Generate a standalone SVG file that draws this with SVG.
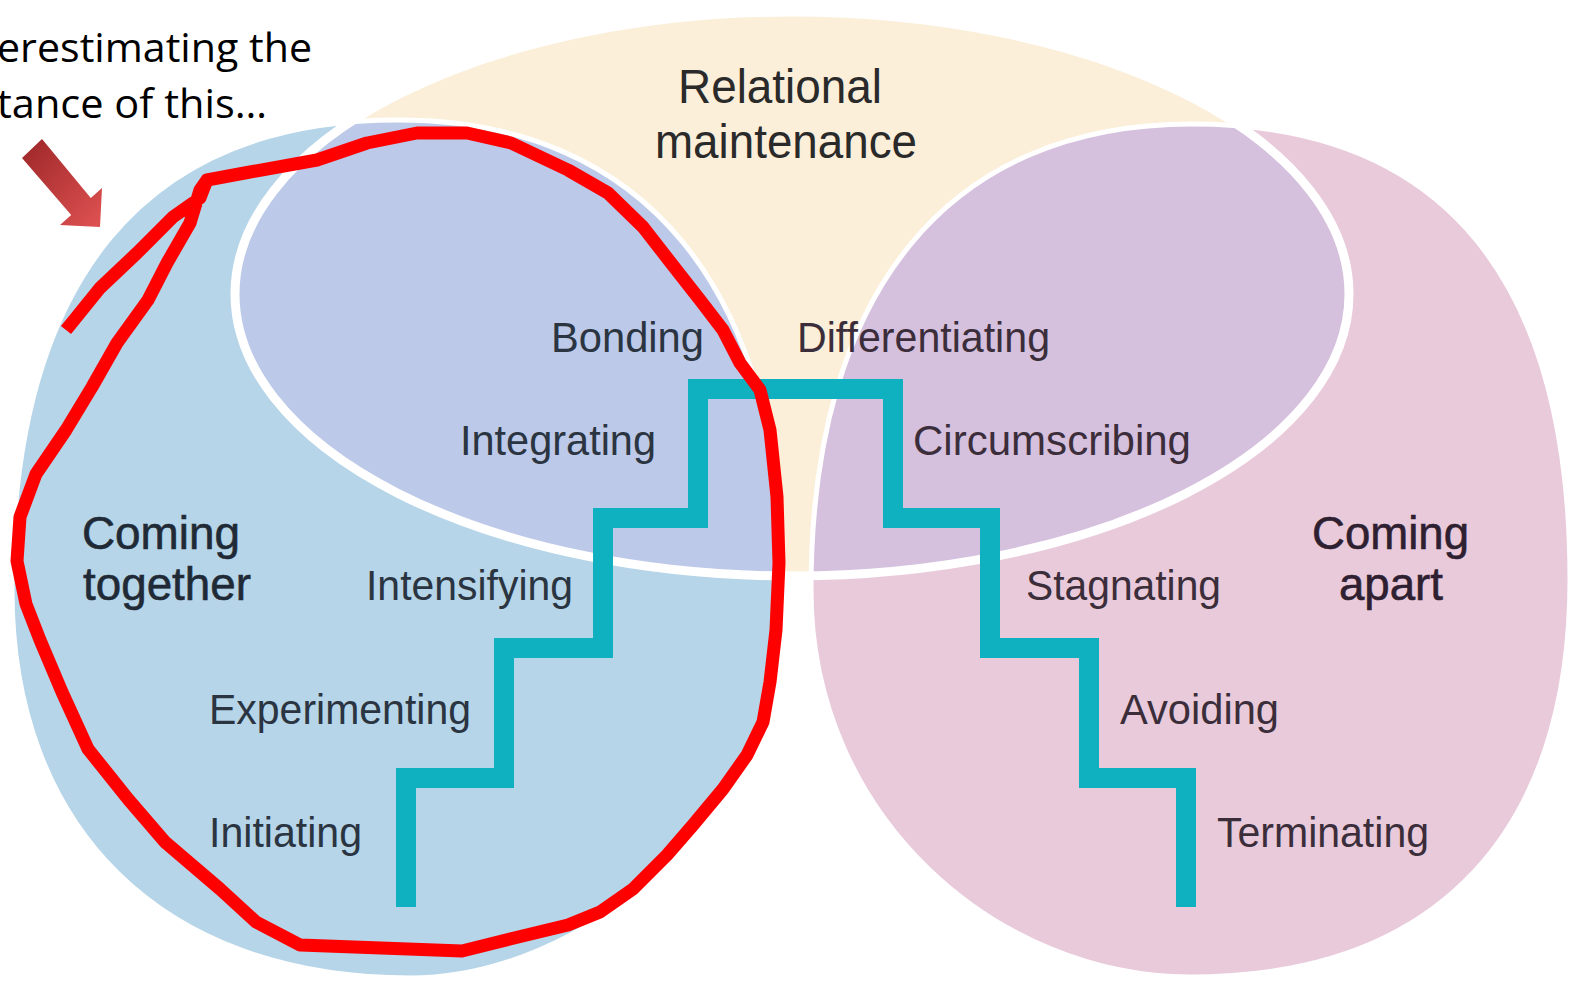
<svg xmlns="http://www.w3.org/2000/svg" width="1574" height="982" viewBox="0 0 1574 982">
<style>
.lbl{font-family:"Liberation Sans",Arial,sans-serif;font-size:43px}
.big{font-family:"Liberation Sans",Arial,sans-serif;font-size:46px;stroke-width:0.6}
.title{font-family:"Liberation Sans",Arial,sans-serif;font-size:49px;fill:#2a2a2a}
.l{fill:#2b3441}
.r{fill:#3b2e3a}
.bigl{fill:#1f2a36;stroke:#1f2a36}
.bigr{fill:#2e2030;stroke:#2e2030}
.note{font-family:"Open Sans","Liberation Sans",sans-serif;font-size:40px;fill:#000}
.stair{fill:none;stroke:#0fb0bf;stroke-width:20;stroke-linejoin:miter;stroke-linecap:butt}
.edge{fill:none;stroke:#ffffff}
</style>
<defs>
<path id="blueShape" d="M 398 120 C 143 120, 12 280, 12 590 C 12 827, 160 978, 410 978 C 580 978, 783 820, 783 590 C 783 289, 644 120, 398 120 Z"/>
<path id="pinkShape" d="M 1192 124 C 1445 124, 1570 280, 1570 580 C 1570 830, 1440 977, 1190 977 C 1000 977, 811 820, 811 590 C 811 289, 950 124, 1192 124 Z"/>
<ellipse id="creamShape" cx="792" cy="294" rx="557" ry="282"/>
<clipPath id="clipBlue"><use href="#blueShape"/></clipPath>
<clipPath id="clipPink"><use href="#pinkShape"/></clipPath>
<linearGradient id="arrowGrad" x1="0" y1="0" x2="1" y2="1">
<stop offset="0" stop-color="#9c2628"/>
<stop offset="1" stop-color="#e05252"/>
</linearGradient>
</defs>
<rect x="0" y="0" width="1574" height="982" fill="#ffffff"/>

<g id="relational-maintenance">
<use href="#creamShape" fill="#fcefd9"/>
</g>
<g id="coming-together">
<use href="#blueShape" fill="#b6d5e8"/>
</g>
<g id="coming-apart">
<use href="#pinkShape" fill="#e9cadb"/>
</g>
<g id="overlap-left">
<use href="#creamShape" fill="#bcc9e8" clip-path="url(#clipBlue)"/>
</g>
<g id="overlap-right">
<use href="#creamShape" fill="#d5c0de" clip-path="url(#clipPink)"/>
</g>
<g id="outlines">
<use href="#blueShape" class="edge" stroke-width="5"/>
<use href="#pinkShape" class="edge" stroke-width="5"/>
<use href="#creamShape" class="edge" stroke-width="9"/>
</g>

<g id="connectors">
<path class="stair" d="M 406 907 V 778 H 504 V 648 H 603 V 518 H 698 V 389 H 893 V 518 H 990 V 648 H 1089 V 778 H 1186 V 907"/>
</g>

<g id="title">
<text class="title" x="678" y="103" textLength="204" lengthAdjust="spacingAndGlyphs">Relational</text>
<text class="title" x="655" y="158" textLength="262" lengthAdjust="spacingAndGlyphs">maintenance</text>
</g>
<g id="label-coming-together">
<text class="big bigl" x="82" y="549" textLength="158" lengthAdjust="spacingAndGlyphs">Coming</text>
<text class="big bigl" x="83" y="600" textLength="168" lengthAdjust="spacingAndGlyphs">together</text>
</g>
<g id="label-coming-apart">
<text class="big bigr" x="1312" y="549" textLength="157" lengthAdjust="spacingAndGlyphs">Coming</text>
<text class="big bigr" x="1339" y="600" textLength="104" lengthAdjust="spacingAndGlyphs">apart</text>
</g>
<g id="stage-bonding"><text class="lbl l" x="551" y="352" textLength="153" lengthAdjust="spacingAndGlyphs">Bonding</text></g>
<g id="stage-integrating"><text class="lbl l" x="460" y="455" textLength="196" lengthAdjust="spacingAndGlyphs">Integrating</text></g>
<g id="stage-intensifying"><text class="lbl l" x="366" y="600" textLength="207" lengthAdjust="spacingAndGlyphs">Intensifying</text></g>
<g id="stage-experimenting"><text class="lbl l" x="209" y="724" textLength="262" lengthAdjust="spacingAndGlyphs">Experimenting</text></g>
<g id="stage-initiating"><text class="lbl l" x="209" y="847" textLength="153" lengthAdjust="spacingAndGlyphs">Initiating</text></g>
<g id="stage-differentiating"><text class="lbl r" x="797" y="352" textLength="253" lengthAdjust="spacingAndGlyphs">Differentiating</text></g>
<g id="stage-circumscribing"><text class="lbl r" x="913" y="455" textLength="278" lengthAdjust="spacingAndGlyphs">Circumscribing</text></g>
<g id="stage-stagnating"><text class="lbl r" x="1026" y="600" textLength="195" lengthAdjust="spacingAndGlyphs">Stagnating</text></g>
<g id="stage-avoiding"><text class="lbl r" x="1120" y="724" textLength="159" lengthAdjust="spacingAndGlyphs">Avoiding</text></g>
<g id="stage-terminating"><text class="lbl r" x="1217" y="847" textLength="212" lengthAdjust="spacingAndGlyphs">Terminating</text></g>

<g id="annotation-text">
<text class="note" x="-3" y="62" textLength="315" lengthAdjust="spacingAndGlyphs">erestimating the</text>
<text class="note" x="-3" y="118" textLength="270" lengthAdjust="spacingAndGlyphs">tance of this…</text>
</g>
<g id="annotation-arrow">
<polygon points="22,158 42,139 90.8,197.9 102,188 100,227 60,225 71.2,215.1" fill="url(#arrowGrad)"/>
</g>
<g id="annotation-loop">
<path d="M 66 330 L 100 288 L 137 253 L 173 217 L 200 198 L 207 180 L 250 172 L 317 160 L 367 143 L 417 133 L 467 133 L 511 143 L 568 170 L 608 193 L 643 227 L 671 263 L 700 300 L 723 330 L 740 363 L 760 390 L 770 430 L 777 497 L 779 563 L 776 630 L 770 682 L 763 722 L 747 755 L 723 789 L 693 825 L 667 855 L 633 889 L 600 912 L 568 925 L 510 939 L 462 951 L 300 945 L 256 922 L 220 889 L 165 842 L 128 799 L 88 749 L 62 692 L 40 640 L 26 604 L 17 561 L 20 517 L 36 474 L 66 430 L 92 387 L 117 343 L 148 300 L 167 263 L 190 223 L 200 190 L 207 180" fill="none" stroke="#ff0000" stroke-width="13" stroke-linejoin="round" stroke-linecap="butt"/>
</g>
</svg>
